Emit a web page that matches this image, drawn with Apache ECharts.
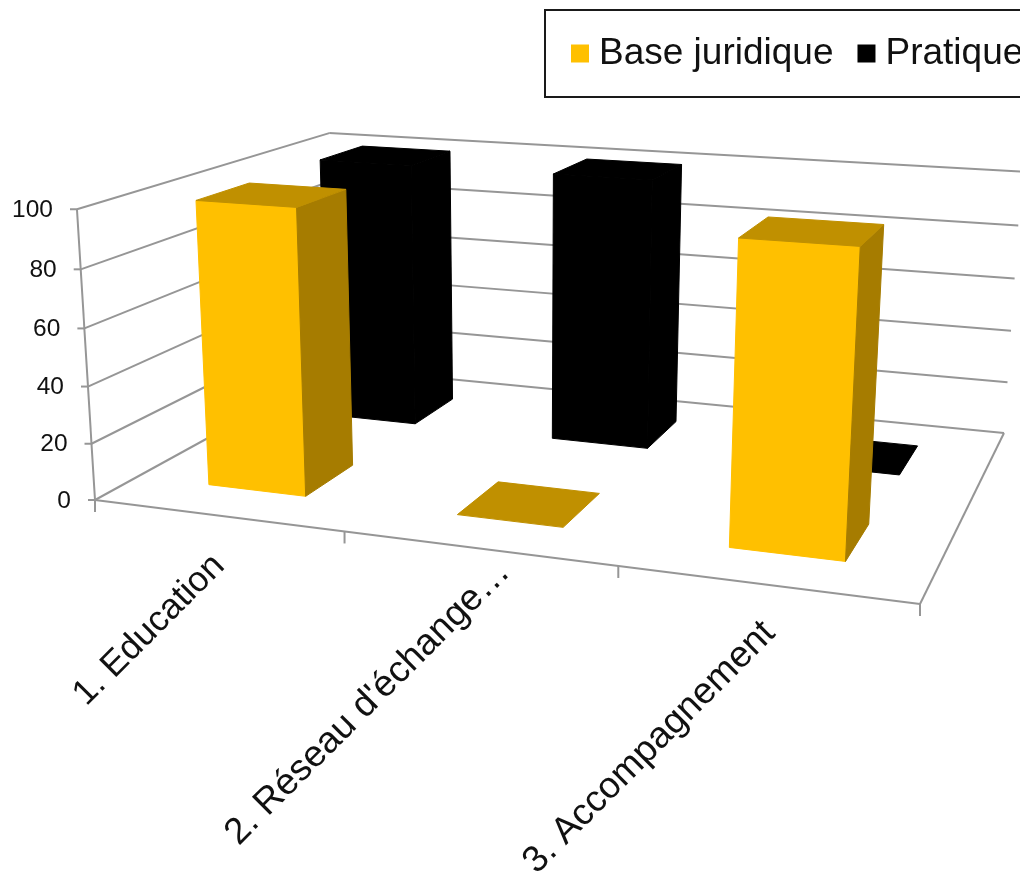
<!DOCTYPE html>
<html>
<head>
<meta charset="utf-8">
<title>Base juridique / Pratique</title>
<script src="https://cdn.jsdelivr.net/npm/echarts@6/dist/echarts.min.js"></script>
<style>
  html, body { margin: 0; padding: 0; background: #fff; overflow: hidden; }
  #chart { width: 1020px; height: 872px; }
</style>
</head>
<body>
<div id="chart"></div>
<script>
// Chart values
const categories = ['1. Education', "2. Réseau d'échange…", '3. Accompagnement'];
const baseJuridique = [100, 0, 100];
const pratique = [100, 100, 0];
const valueTicks = [0, 20, 40, 60, 80, 100];

// Colours of the box faces: front, side, top
const FACES_GOLD = ['#FFC000', '#A67C00', '#C09000'];
const FACES_BLACK = ['#000000', '#000000', '#000000'];
const FRAME_COLOR = '#969696';
const FONT = '"Liberation Sans", Arial, sans-serif';

// Floor of the plot in page pixels, and the point the vertical edges run to
const floorA = [95, 500], floorB = [920, 604], floorC = [1004, 433], floorD = [335.5, 368];
const verticalVanish = [524, 7424];
const heightPerspective = -0.0403;

// Plain grid that the hidden axes scale into; renderers tilt it with project()
const GRID = { left: 95, top: 208, width: 825, height: 292 };

// Projective map (u along categories, v into depth, h up), each in 0..1
const project = (function () {
  const [x0, y0] = floorA, [x1, y1] = floorB, [x2, y2] = floorC, [x3, y3] = floorD;
  const dx1 = x1 - x2, dx2 = x3 - x2, sx = x0 - x1 + x2 - x3;
  const dy1 = y1 - y2, dy2 = y3 - y2, sy = y0 - y1 + y2 - y3;
  const det = dx1 * dy2 - dx2 * dy1;
  const g = (sx * dy2 - dx2 * sy) / det;
  const k = (dx1 * sy - sx * dy1) / det;
  const a1 = x1 - x0 + g * x1, a2 = x3 - x0 + k * x3;
  const b1 = y1 - y0 + g * y1, b2 = y3 - y0 + k * y3;
  const m = heightPerspective;
  return function (u, v, h) {
    const w = 1 + g * u + k * v + m * h;
    return [
      (a1 * u + a2 * v + x0 + verticalVanish[0] * m * h) / w,
      (b1 * u + b2 * v + y0 + verticalVanish[1] * m * h) / w
    ];
  };
})();

// Grid pixel to normalised plot coordinates
const toU = px => (px - GRID.left) / GRID.width;
const toH = py => (GRID.top + GRID.height - py) / GRID.height;

const line = (p, q) => ({
  type: 'line',
  shape: { x1: p[0], y1: p[1], x2: q[0], y2: q[1] },
  style: { stroke: FRAME_COLOR, lineWidth: 2 },
  silent: true
});

// One box standing on the floor; row 0 is the front row, row 1 the back row
function boxRenderer(row, faces) {
  return function (params, api) {
    const pos = api.coord([api.value(0), api.value(1)]);
    const bandU = api.size([1, 0])[0] / GRID.width;
    const u0 = toU(pos[0]) - bandU * 0.2, u1 = toU(pos[0]) + bandU * 0.2;
    const v0 = (row + 0.5) / 2 - 0.1, v1 = (row + 0.5) / 2 + 0.1;
    const h = toH(pos[1]);
    const quad = (pts, color) => ({
      type: 'polygon',
      shape: { points: pts },
      style: { fill: color, stroke: color, lineWidth: 1, lineJoin: 'round' }
    });
    const children = [];
    if (h > 0) {
      children.push(quad([project(u0, v0, 0), project(u1, v0, 0), project(u1, v0, h), project(u0, v0, h)], faces[0]));
      children.push(quad([project(u1, v0, 0), project(u1, v1, 0), project(u1, v1, h), project(u1, v0, h)], faces[1]));
    }
    children.push(quad([project(u0, v0, h), project(u1, v0, h), project(u1, v1, h), project(u0, v1, h)], faces[2]));
    return { type: 'group', children };
  };
}

// Wall gridlines, value ticks and value labels, one set per tick
function renderWalls(params, api) {
  const h = toH(api.coord([0, api.value(1)])[1]);
  const front = project(0, 0, h), back = project(0, 1, h), right = project(1, 1, h);
  const children = [
    line([front[0] - 7, front[1]], front),
    line(front, back),
    line(back, right),
    {
      type: 'text',
      x: front[0] - 24,
      y: front[1] + 1,
      style: {
        text: String(api.value(1)),
        align: 'right',
        verticalAlign: 'middle',
        fill: '#111',
        font: '24.5px ' + FONT
      }
    }
  ];
  if (h === 0) {
    children.push(line(floorA, floorB), line(floorB, floorC));
    children.push(line(floorA, project(0, 0, 1)));
  }
  return { type: 'group', children };
}

// Category ticks and slanted labels along the front edge of the floor
const labelOffsets = [[2, 45], [26, 18], [4, 43]];
const labelSizes = [35.5, 37, 37];
function renderCategoryAxis(params, api) {
  const i = api.value(0);
  const pos = api.coord([i, 0]);
  const bandU = api.size([1, 0])[0] / GRID.width;
  const uMid = toU(pos[0]);
  const tickAt = u => {
    const p = project(u, 0, 0);
    return line(p, [p[0], p[1] + 12]);
  };
  const mid = project(uMid, 0, 0);
  const children = [
    tickAt(uMid - bandU / 2),
    {
      type: 'text',
      x: mid[0] + labelOffsets[i][0],
      y: mid[1] + labelOffsets[i][1],
      rotation: Math.PI / 4,
      style: {
        text: categories[i],
        align: 'right',
        verticalAlign: 'middle',
        fill: '#111',
        font: labelSizes[i] + 'px ' + FONT
      }
    }
  ];
  if (i === categories.length - 1) children.push(tickAt(uMid + bandU / 2));
  return { type: 'group', children };
}

const chart = echarts.init(document.getElementById('chart'), null, { renderer: 'canvas' });
chart.setOption({
  animation: false,
  backgroundColor: '#ffffff',
  tooltip: { show: false },
  grid: GRID,
  xAxis: { type: 'category', data: categories, show: false },
  yAxis: { type: 'value', min: 0, max: 100, interval: 20, show: false },
  legend: {
    data: ['Base juridique', 'Pratique'],
    left: 545,
    top: 10,
    width: 620,
    icon: 'rect',
    itemWidth: 18,
    itemHeight: 18,
    itemGap: 24,
    padding: [25, 26, 25, 26],
    borderColor: '#1a1a1a',
    borderWidth: 2,
    backgroundColor: '#fff',
    selectedMode: false,
    textStyle: { fontFamily: FONT, fontSize: 37, color: '#111', padding: [0, 0, 0, 5] }
  },
  series: [
    {
      name: 'Base juridique',
      type: 'custom',
      z: 4,
      clip: false,
      silent: true,
      itemStyle: { color: FACES_GOLD[0] },
      renderItem: boxRenderer(0, FACES_GOLD),
      data: baseJuridique.map((v, i) => [i, v])
    },
    {
      name: 'Pratique',
      type: 'custom',
      z: 3,
      clip: false,
      silent: true,
      itemStyle: { color: FACES_BLACK[0] },
      renderItem: boxRenderer(1, FACES_BLACK),
      data: pratique.map((v, i) => [i, v])
    },
    {
      name: 'Parois',
      type: 'custom',
      z: 1,
      clip: false,
      silent: true,
      renderItem: renderWalls,
      data: valueTicks.map(t => [0, t])
    },
    {
      name: 'Catégories',
      type: 'custom',
      z: 1,
      clip: false,
      silent: true,
      renderItem: renderCategoryAxis,
      data: categories.map((c, i) => [i, 0])
    }
  ]
});
</script>
</body>
</html>
